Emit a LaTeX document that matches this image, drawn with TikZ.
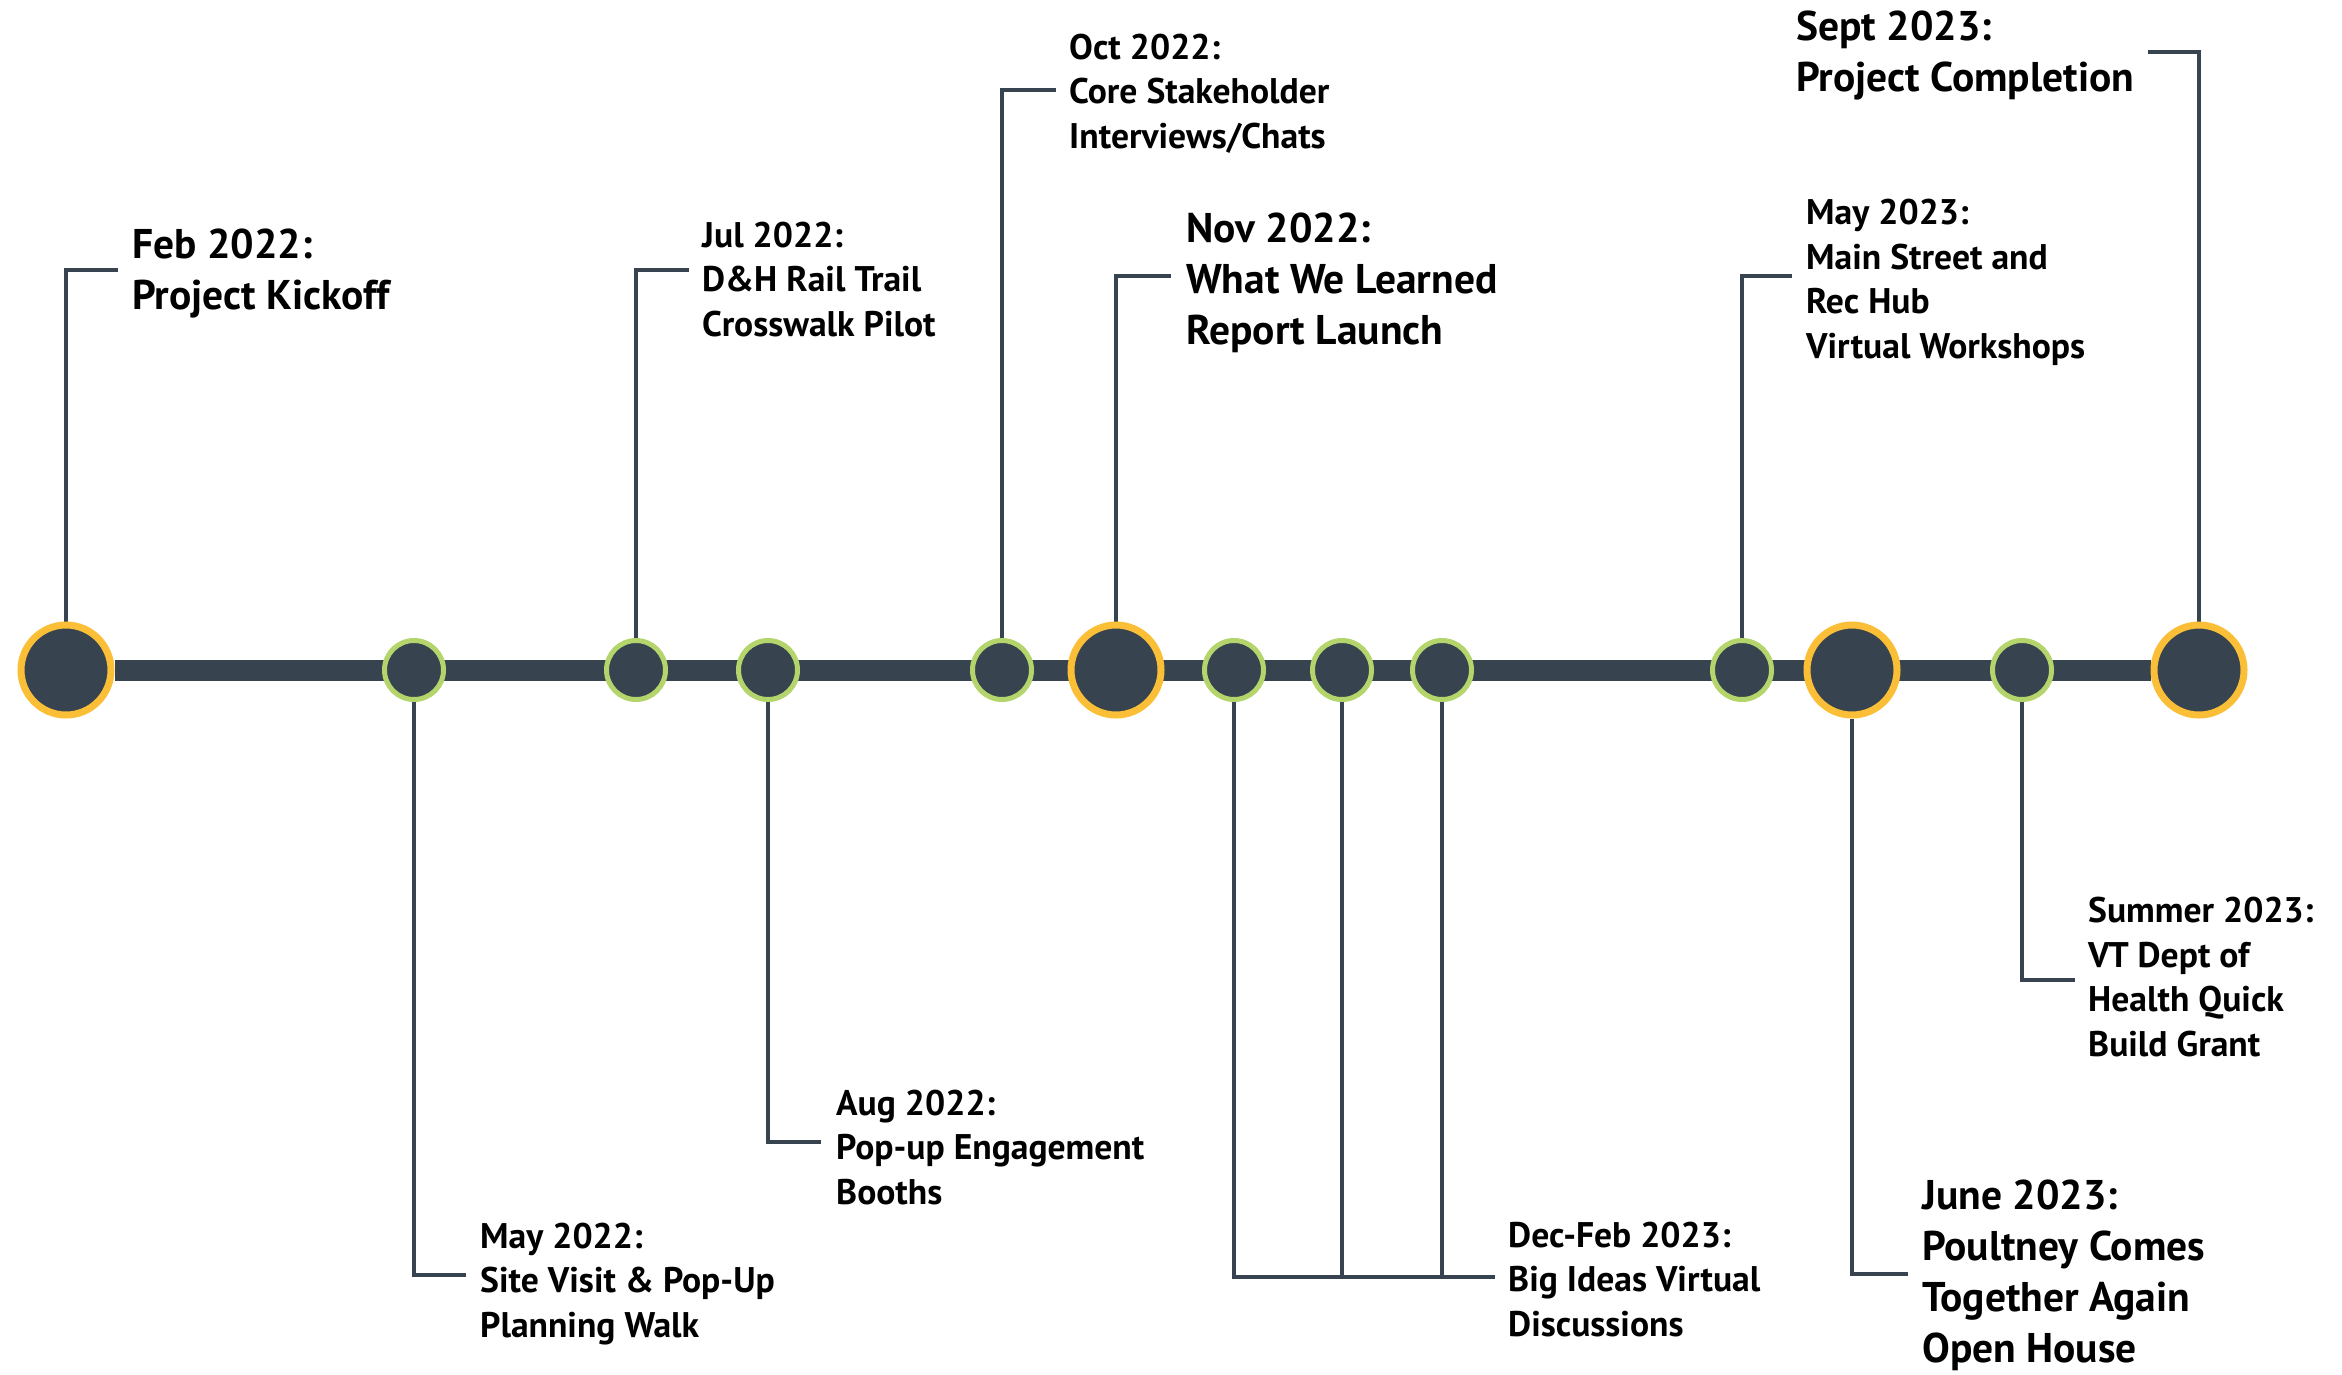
\documentclass[tikz,border=0pt]{standalone}
\usepackage{fontspec}
\setmainfont{PT Sans}
\usetikzlibrary{backgrounds}
\definecolor{tlslate}{HTML}{37444F}
\definecolor{tlgold}{HTML}{FBBE37}
\definecolor{tlgreen}{HTML}{B4D46C}

\begin{document}
\begin{tikzpicture}[x=1pt,y=-1pt,
    major/.style={circle,fill=tlslate,draw=tlgold,line width=7pt,minimum size=90pt,inner sep=0pt},
    minor/.style={circle,fill=tlslate,draw=tlgreen,line width=5pt,minimum size=59pt,inner sep=0pt},
    spine/.style={tlslate,line width=21pt},
    leader/.style={tlslate,line width=4.5pt},
    note/.style={anchor=base west,align=left,inner sep=0pt,font=\bfseries\fontsize{35.6}{44.5}\selectfont},
    bignote/.style={note,font=\bfseries\fontsize{41.5}{51}\selectfont}]
    \useasboundingbox (0,0) rectangle (2342,1374);

    % milestones on the line
    \node[major] (feb22) at (66,670) {};
    \node[minor] (may22) at (414,670) {};
    \node[minor] (jul22) at (636,670) {};
    \node[minor] (aug22) at (768,670) {};
    \node[minor] (oct22) at (1002,670) {};
    \node[major] (nov22) at (1116,670) {};
    \node[minor] (dec22) at (1234,670) {};
    \node[minor] (jan23) at (1342,670) {};
    \node[minor] (feb23) at (1442,670) {};
    \node[minor] (may23) at (1742,670) {};
    \node[major] (jun23) at (1852,670) {};
    \node[minor] (sum23) at (2022,670) {};
    \node[major] (sep23) at (2199,670) {};

    % leader ends
    \coordinate (feb22e) at (118,270);
    \coordinate (may22e) at (466,1275);
    \coordinate (jul22e) at (689,270);
    \coordinate (aug22e) at (821,1142);
    \coordinate (oct22e) at (1056,90);
    \coordinate (nov22e) at (1171,276);
    \coordinate (decfebe) at (1495,1277);
    \coordinate (may23e) at (1792,276);
    \coordinate (jun23e) at (1908,1274);
    \coordinate (sum23e) at (2075,980);
    \coordinate (sep23e) at (2148,52);

    \begin{scope}[on background layer]
      \draw[spine] (feb22) -- (sep23);
      \draw[leader] (feb22) |- (feb22e);
      \draw[leader] (may22) |- (may22e);
      \draw[leader] (jul22) |- (jul22e);
      \draw[leader] (aug22) |- (aug22e);
      \draw[leader] (oct22) |- (oct22e);
      \draw[leader] (nov22) |- (nov22e);
      \draw[leader] (dec22) |- (decfebe);
      \draw[leader] (jan23) -- (jan23 |- decfebe);
      \draw[leader] (feb23) -- (feb23 |- decfebe);
      \draw[leader] (may23) |- (may23e);
      \draw[leader] (jun23) |- (jun23e);
      \draw[leader] (sum23) |- (sum23e);
      \draw[leader] (sep23) |- (sep23e);
    \end{scope}

    % labels (placed by the baseline of their last line)
    \node[bignote] (feb22t) at (132,309) {Feb 2022:\\Project Kickoff};
    \node[note] (may22t) at (480,1337) {May 2022:\\Site Visit \& Pop-Up\\Planning Walk};
    \node[note] (jul22t) at (702,336) {Jul 2022:\\D\&H Rail Trail\\Crosswalk Pilot};
    \node[note] (aug22t) at (836,1204) {Aug 2022:\\Pop-up Engagement\\Booths};
    \node[note] (oct22t) at (1069,148) {Oct 2022:\\Core Stakeholder\\Interviews/Chats};
    \node[bignote] (nov22t) at (1186,344) {Nov 2022:\\What We Learned\\Report Launch};
    \node[note] (decfebt) at (1508,1336) {Dec-Feb 2023:\\Big Ideas Virtual\\Discussions};
    \node[note] (may23t) at (1806,358) {May 2023:\\Main Street and\\Rec Hub\\Virtual Workshops};
    \node[bignote] (jun23t) at (1922,1362) {June 2023:\\Poultney Comes\\Together Again\\Open House};
    \node[note] (sum23t) at (2088,1056) {Summer 2023:\\VT Dept of\\Health Quick\\Build Grant};
    \node[bignote] (sep23t) at (1796,91) {Sept 2023:\\Project Completion};
  \end{tikzpicture}
\end{document}
